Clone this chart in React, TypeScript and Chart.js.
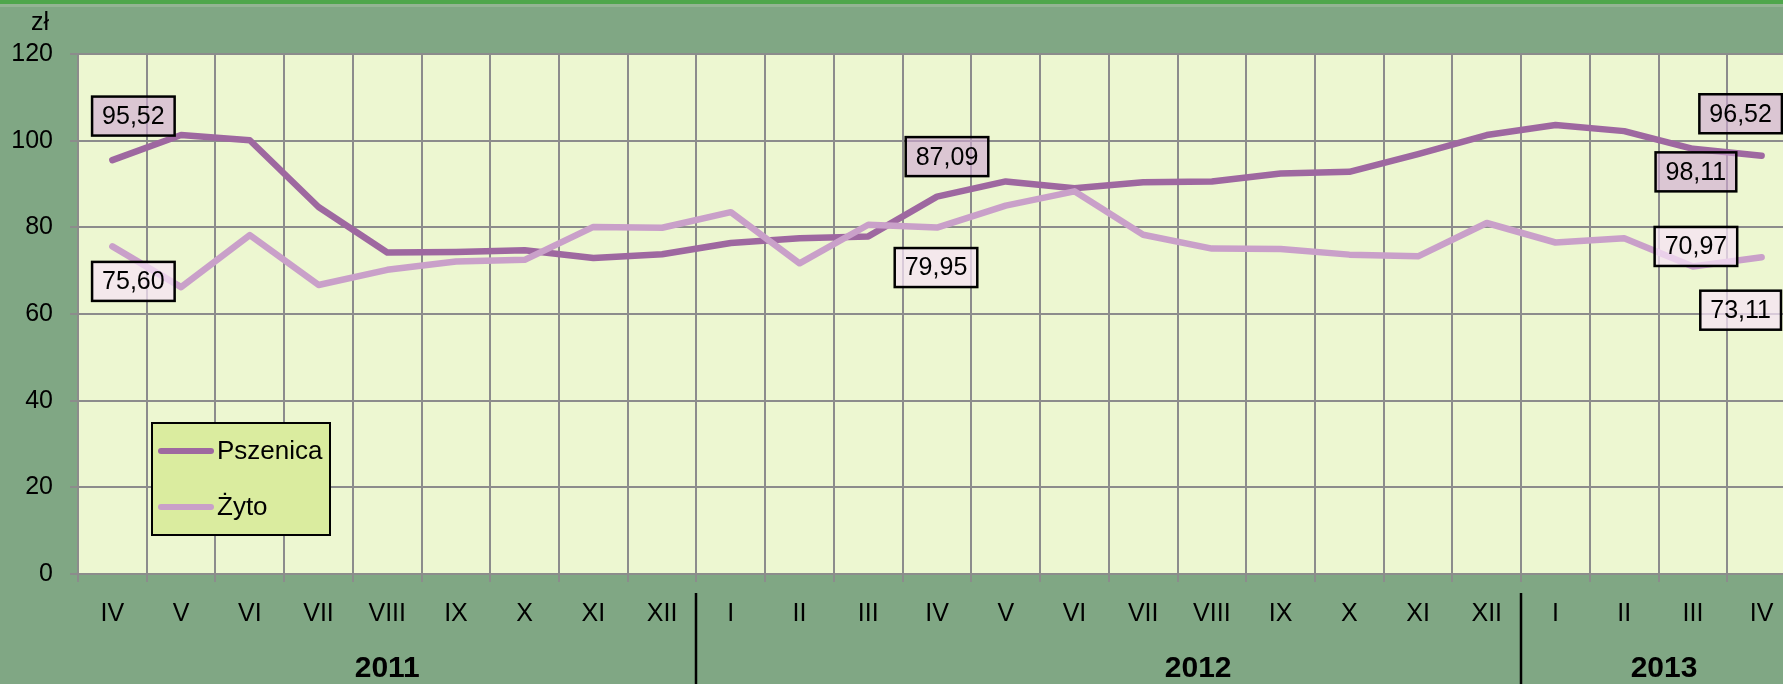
import { useEffect, useRef } from 'react';
import { Chart, registerables } from 'chart.js';

Chart.register(...registerables);

// ---- data ----
const months = ['IV', 'V', 'VI', 'VII', 'VIII', 'IX', 'X', 'XI', 'XII', 'I', 'II', 'III', 'IV', 'V', 'VI', 'VII', 'VIII', 'IX', 'X', 'XI', 'XII', 'I', 'II', 'III', 'IV'];
const pszenica = [95.52, 101.3, 100.1, 84.7, 74.2, 74.3, 74.7, 72.9, 73.8, 76.4, 77.5, 77.9, 87.09, 90.6, 89.0, 90.4, 90.6, 92.4, 92.8, 96.9, 101.3, 103.6, 102.2, 98.11, 96.52];
const zyto = [75.6, 66.2, 78.2, 66.7, 70.2, 72.1, 72.5, 80.1, 79.9, 83.5, 71.7, 80.6, 79.95, 85.0, 88.3, 78.3, 75.1, 75.0, 73.7, 73.3, 81.0, 76.5, 77.5, 70.97, 73.11];
const seriesNames = ['Pszenica', 'Żyto'];
const yMin = 0;
const yMax = 120;
const yStep = 20;
const unitLabel = 'zł';
const years = ['2011', '2012', '2013'];
const yearCenters = [4, 15.8, 22.58]; // category positions of year captions
const yearSeparators = [8.5, 20.5]; // category boundaries between years

// which points carry a value box, with the box offset from its point
const labelledPoints = [
  { series: 0, index: 0, dx: 21, dy: -44 },
  { series: 1, index: 0, dx: 21, dy: 35 },
  { series: 0, index: 12, dx: 10, dy: -40 },
  { series: 1, index: 12, dx: -1, dy: 40 },
  { series: 0, index: 23, dx: 3, dy: 23 },
  { series: 1, index: 23, dx: 3, dy: -20 },
  { series: 0, index: 24, dx: -21, dy: -42 },
  { series: 1, index: 24, dx: -21, dy: 53 },
];

// ---- styles ----
const FONT = "'Liberation Sans', Arial, sans-serif";
const OUTER_BG = '#80A784';
const PLOT_BG = '#EDF7D1';
const GRID = '#8C8C8C';
const COLORS = ['#9E68A0', '#C9A0C9'];
const BOX_FILL = ['rgba(208,168,212,0.62)', 'rgba(246,226,246,0.72)'];

const fmt = (v: number) => v.toFixed(2).replace('.', ',');

const backgroundPlugin = {
  id: 'bg',
  beforeDraw(chart: any) {
    const { ctx, chartArea } = chart;
    ctx.save();
    ctx.fillStyle = OUTER_BG;
    ctx.fillRect(0, 0, chart.width, chart.height);
    ctx.fillStyle = '#4EA64B';
    ctx.fillRect(0, 0, chart.width, 4);
    ctx.fillStyle = '#93B493';
    ctx.fillRect(0, 4, chart.width, 3);
    ctx.fillStyle = PLOT_BG;
    ctx.fillRect(chartArea.left, chartArea.top, chartArea.right - chartArea.left, chartArea.bottom - chartArea.top);
    ctx.restore();
  },
};

const overlayPlugin = {
  id: 'overlay',
  afterDatasetsDraw(chart: any) {
    const { ctx } = chart;
    const xs = chart.scales.x;
    const ys = chart.scales.y;
    ctx.save();
    // value boxes
    ctx.font = `25px ${FONT}`;
    ctx.textAlign = 'center';
    ctx.textBaseline = 'middle';
    labelledPoints.forEach((lp) => {
      const v = (lp.series === 0 ? pszenica : zyto)[lp.index];
      const px = xs.getPixelForValue(lp.index);
      const py = ys.getPixelForValue(v);
      const text = fmt(v);
      const w = ctx.measureText(text).width + 20;
      const h = 39;
      const cx = px + lp.dx;
      const cy = py + lp.dy;
      ctx.fillStyle = BOX_FILL[lp.series];
      ctx.fillRect(cx - w / 2, cy - h / 2, w, h);
      ctx.lineWidth = 2.5;
      ctx.strokeStyle = '#000';
      ctx.strokeRect(cx - w / 2, cy - h / 2, w, h);
      ctx.fillStyle = '#000';
      ctx.fillText(text, cx, cy + 1);
    });

    // legend
    const lx = 152, ly = 423, lw = 178, lh = 112;
    ctx.fillStyle = '#DAEC9F';
    ctx.fillRect(lx, ly, lw, lh);
    ctx.lineWidth = 2;
    ctx.strokeStyle = '#000';
    ctx.strokeRect(lx, ly, lw, lh);
    ctx.font = `26px ${FONT}`;
    ctx.textAlign = 'left';
    seriesNames.forEach((name, i) => {
      const y = 451 + i * 56;
      ctx.strokeStyle = COLORS[i];
      ctx.lineWidth = 6;
      ctx.lineCap = 'round';
      ctx.beginPath();
      ctx.moveTo(161, y);
      ctx.lineTo(211, y);
      ctx.stroke();
      ctx.fillStyle = '#000';
      ctx.fillText(name, 217, y + 1);
    });
    ctx.restore();
  },
  afterDraw(chart: any) {
    const { ctx } = chart;
    const xs = chart.scales.x;
    ctx.save();
    // unit
    ctx.fillStyle = '#000';
    ctx.font = `25px ${FONT}`;
    ctx.textAlign = 'center';
    ctx.textBaseline = 'middle';
    ctx.fillText(unitLabel, 40, 23);
    // year separators
    ctx.strokeStyle = '#000';
    ctx.lineWidth = 2.5;
    yearSeparators.forEach((b) => {
      const x = Math.round(xs.getPixelForValue(b));
      ctx.beginPath();
      ctx.moveTo(x, 593);
      ctx.lineTo(x, chart.height);
      ctx.stroke();
    });
    // year captions
    ctx.font = `bold 30px ${FONT}`;
    years.forEach((y, i) => {
      ctx.fillText(y, xs.getPixelForValue(yearCenters[i]), 669);
    });
    ctx.restore();
  },
};

export default function App() {
  const ref = useRef<HTMLCanvasElement | null>(null);

  useEffect(() => {
    if (!ref.current) return;
    const tickFont = { family: FONT, size: 25 };
    const chart = new Chart(ref.current, {
      type: 'line',
      data: {
        labels: months,
        datasets: [
          {
            label: seriesNames[0],
            data: pszenica,
            borderColor: COLORS[0],
            backgroundColor: COLORS[0],
            borderWidth: 6.5,
            pointRadius: 0,
            tension: 0,
            borderCapStyle: 'round',
            borderJoinStyle: 'round',
            order: 1,
          },
          {
            label: seriesNames[1],
            data: zyto,
            borderColor: COLORS[1],
            backgroundColor: COLORS[1],
            borderWidth: 6.5,
            pointRadius: 0,
            tension: 0,
            borderCapStyle: 'round',
            borderJoinStyle: 'round',
            order: 0,
          },
        ],
      },
      options: {
        responsive: false,
        animation: false,
        devicePixelRatio: 1,
        layout: { padding: { left: 0, top: 54, right: 4, bottom: 0 } },
        plugins: { legend: { display: false }, tooltip: { enabled: false } },
        scales: {
          x: {
            offset: true,
            grid: { offset: true, color: GRID, lineWidth: 2, tickLength: 8, drawTicks: true },
            border: { color: GRID, width: 2 },
            ticks: { color: '#000', font: tickFont, padding: 17, maxRotation: 0, autoSkip: false },
            afterFit: (s: any) => {
              s.height = 110;
            },
          },
          y: {
            min: yMin,
            max: yMax,
            grid: { color: GRID, lineWidth: 2, tickLength: 8 },
            border: { color: GRID, width: 2 },
            ticks: { stepSize: yStep, color: '#000', font: tickFont, padding: 17 },
            afterFit: (s: any) => {
              s.width = 78;
            },
          },
        },
      },
      plugins: [backgroundPlugin, overlayPlugin],
    } as any);
    return () => chart.destroy();
  }, []);

  return (
    <div style={{ position: 'fixed', left: 0, top: 0, width: 1783, height: 684, overflow: 'hidden', background: OUTER_BG }}>
      <canvas ref={ref} width={1800} height={684} style={{ display: 'block' }} />
    </div>
  );
}
